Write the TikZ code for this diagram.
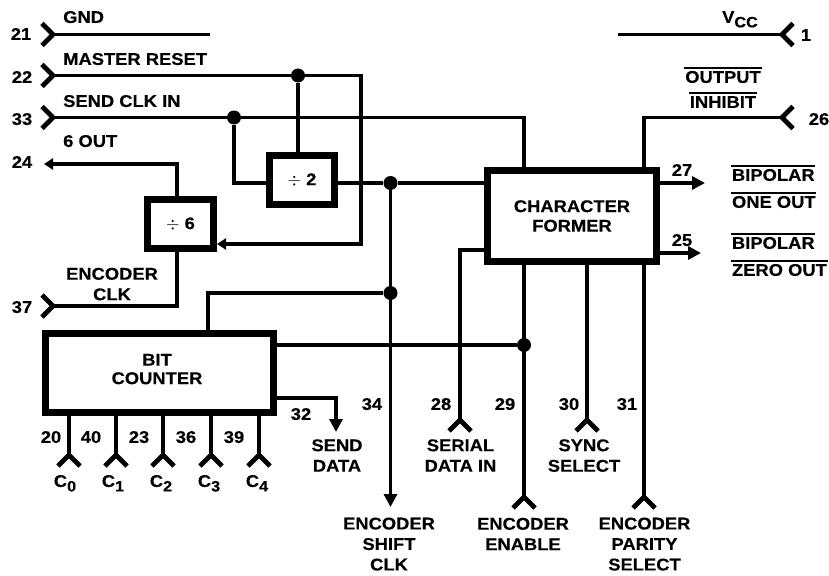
\documentclass[tikz,border=0pt]{standalone}
\usepackage{fontspec}
\setmainfont{Liberation Sans}[FakeStretch=1.08,BoldFeatures={FakeBold=0.3}]
\usetikzlibrary{arrows.meta}
\tikzset{
 wire/.style={line width=3.8pt,line join=miter},
 chev/.style={line width=4.8pt,line join=miter},
 thickbox/.style={draw,line width=7pt,fill=white,inner sep=0pt,align=center,font=\lbl},
 lbl/.style={inner sep=0pt,font=\lbl,align=center,text depth=0pt,yshift=-1pt},
 lblL/.style={lbl,anchor=west,align=left},
 dot/.style={circle,fill=black,inner sep=0pt,minimum size=14pt},
 bigarrow/.style={wire,-{Triangle[length=13pt,width=13pt]}},
 smallarrow/.style={wire,-{Triangle[length=9pt,width=11pt]}}
}
\newcommand{\lbl}{\fontsize{17}{20.5}\selectfont\bfseries}
\newcommand{\ov}[1]{\vphantom{H}\smash{\vbox{\hrule height 1.3pt\vskip 2.4pt\hbox{\kern0.8pt #1\kern0.8pt}}}}
\newcommand{\sbs}[1]{\raisebox{-4.5pt}{\fontsize{15}{15}\selectfont #1}}
\newcommand{\chevR}[1]{\draw[chev] ([shift={(-11,-11)}]#1) -- (#1) -- ([shift={(-11,11)}]#1);}
\newcommand{\chevL}[1]{\draw[chev] ([shift={(11,-11)}]#1) -- (#1) -- ([shift={(11,11)}]#1);}
\newcommand{\chevU}[1]{\draw[chev] ([shift={(-11,11)}]#1) -- (#1) -- ([shift={(11,11)}]#1);}
\begin{document}
\begin{tikzpicture}[x=1pt,y=-1pt]
\useasboundingbox (0,0) rectangle (829,575);
% boxes
\node[thickbox,minimum width=65pt,minimum height=49pt] (div2) at (302,180) {$\div$ 2};
\node[thickbox,minimum width=66pt,minimum height=49pt] (div6) at (180.5,224) {$\div$ 6};
\node[thickbox,minimum width=228pt,minimum height=79pt] (bit) at (159.5,373) {};
\node[thickbox,minimum width=169pt,minimum height=91pt] (char) at (572,216) {CHARACTER\\[-1pt]FORMER};
\node[lbl] (tbit) at (157,368) {BIT\\[-2pt]COUNTER};
% pins
\coordinate (p21) at (53,34.5);
\coordinate (p22) at (53,75.5);
\coordinate (p33) at (53,117.5);
\coordinate (p24) at (44,164);
\coordinate (p37) at (53,306);
\coordinate (p1) at (782,34.5);
\coordinate (p26) at (782,117.5);
\coordinate (gndend) at (210,34.5);
\coordinate (vccend) at (618,34.5);
\coordinate (mrc1) at (361,75.5);
\coordinate (mrc2) at (361,244);
\coordinate (p20) at (69,455);
\coordinate (p40) at (116,455);
\coordinate (p23) at (163,455);
\coordinate (p36) at (211,455);
\coordinate (p39) at (259,455);
\coordinate (p28) at (460,420);
\coordinate (p30) at (587,420);
\coordinate (p29) at (524,497);
\coordinate (p31) at (644,497);
\coordinate (p34) at (390.5,507);
\coordinate (p32) at (336,432);
\coordinate (p27) at (705,183);
\coordinate (p25) at (701,253);
\coordinate (stem6) at (177,224);
\coordinate (stembit) at (208,373);
\coordinate (bitout1) at (220,345);
\coordinate (bitout2) at (220,398);
\coordinate (charser) at (520,250);
\coordinate (charo1) at (600,183);
\coordinate (charo2) at (600,253);
% dots
\node[dot] (dmr) at (298,75.5) {};
\node[dot] (dclk) at (234,117.5) {};
\node[dot] (d2out) at (390.5,183) {};
\node[dot] (dshift) at (390.5,293) {};
\node[dot] (den) at (524,345) {};
% wires
\draw[wire] (p21) -- (gndend);
\draw[wire] (vccend) -- (p1);
\draw[wire] (p22) -- (dmr);
\draw[smallarrow] (dmr) -- (mrc1) -- (mrc2) -- (div6.east |- mrc2);
\draw[wire] (dmr) -- (dmr |- div2.north);
\draw[wire] (p33) -- (dclk);
\draw[wire] (dclk) -- (dclk -| p29) -- (p29 |- char.north);
\draw[wire] (dclk) |- (div2.west |- d2out);
\draw[wire] (div2.east |- d2out) -- (d2out) -- (char.west |- d2out);
\draw[smallarrow] (stem6 |- div6.north) |- (p24);
\draw[wire] (stem6 |- div6.south) |- (p37);
\draw[bigarrow] (d2out) -- (dshift) -- (p34);
\draw[wire] (dshift) -| (stembit |- bit.north);
\draw[wire] (bit.east |- bitout1) -- (den);
\draw[wire] (p29 |- char.south) -- (p29);
\draw[bigarrow] (bit.east |- bitout2) -| (p32);
\foreach \p in {p20,p40,p23,p36,p39}{\draw[wire] (\p |- bit.south) -- (\p);}
\draw[wire] (char.west |- charser) -| (p28);
\draw[wire] (p30 |- char.south) -- (p30);
\draw[wire] (p31 |- char.south) -- (p31);
\draw[wire] (p26) -| (p31 |- char.north);
\draw[bigarrow] (char.east |- charo1) -- (p27);
\draw[bigarrow] (char.east |- charo2) -- (p25);
% chevrons
\chevR{p21}\chevR{p22}\chevR{p33}\chevR{p37}
\chevL{p1}\chevL{p26}
\chevU{p20}\chevU{p40}\chevU{p23}\chevU{p36}\chevU{p39}
\chevU{p28}\chevU{p30}\chevU{p29}\chevU{p31}
% labels
\node[lbl] (n21) at (21,33) {21};
\node[lbl] (n22) at (22,76) {22};
\node[lbl] (n33) at (22,118) {33};
\node[lbl] (n24) at (22,161) {24};
\node[lbl] (n37) at (22,306) {37};
\node[lblL] (tgnd) at (63,16) {GND};
\node[lblL] (tmr) at (63,58) {MASTER RESET};
\node[lblL] (tclk) at (63,100) {SEND CLK IN};
\node[lblL] (t6) at (63,140) {6 OUT};
\node[lbl] (tenc) at (112,283) {ENCODER\\CLK};
\node[lbl] (n20) at (51,436) {20};
\node[lbl] (n40) at (91,436) {40};
\node[lbl] (n23) at (139,436) {23};
\node[lbl] (n36) at (186,436) {36};
\node[lbl] (n39) at (234,436) {39};
\node[lbl] (n32) at (301,413) {32};
\node[lbl] (n34) at (372,403) {34};
\node[lbl] (n28) at (441,403) {28};
\node[lbl] (n29) at (505,403) {29};
\node[lbl] (n30) at (569,403) {30};
\node[lbl] (n31) at (627,403) {31};
\node[lbl] (c0) at (65,480) {C\sbs{0}};
\node[lbl] (c1) at (113,480) {C\sbs{1}};
\node[lbl] (c2) at (161,480) {C\sbs{2}};
\node[lbl] (c3) at (209,480) {C\sbs{3}};
\node[lbl] (c4) at (257,480) {C\sbs{4}};
\node[lbl] (tsend) at (337,454.5) {SEND\\DATA};
\node[lbl] (tser) at (460.5,454.5) {SERIAL\\DATA IN};
\node[lbl] (tsync) at (584,454.5) {SYNC\\SELECT};
\node[lbl] (tshift) at (389,543) {ENCODER\\SHIFT\\CLK};
\node[lbl] (tenable) at (523,533) {ENCODER\\ENABLE};
\node[lbl] (tpar) at (644.5,543) {ENCODER\\PARITY\\SELECT};
\node[lbl] (n27) at (682,169) {27};
\node[lbl] (n25) at (682,239) {25};
\node[lbl] (n1) at (806,34) {1};
\node[lbl] (n26) at (819,118) {26};
\node[lbl] (tvcc) at (740,16) {V\sbs{CC}};
\node[lbl] (tout) at (723,76) {\ov{OUTPUT}};
\node[lbl] (tinh) at (723,101) {\ov{INHIBIT}};
\node[lblL] (tb1) at (731,174) {\ov{BIPOLAR}};
\node[lblL] (to1) at (731,201) {\ov{ONE OUT}};
\node[lblL] (tb2) at (731,242) {\ov{BIPOLAR}};
\node[lblL] (tz) at (731,269) {\ov{ZERO OUT}};
\end{tikzpicture}
\end{document}
